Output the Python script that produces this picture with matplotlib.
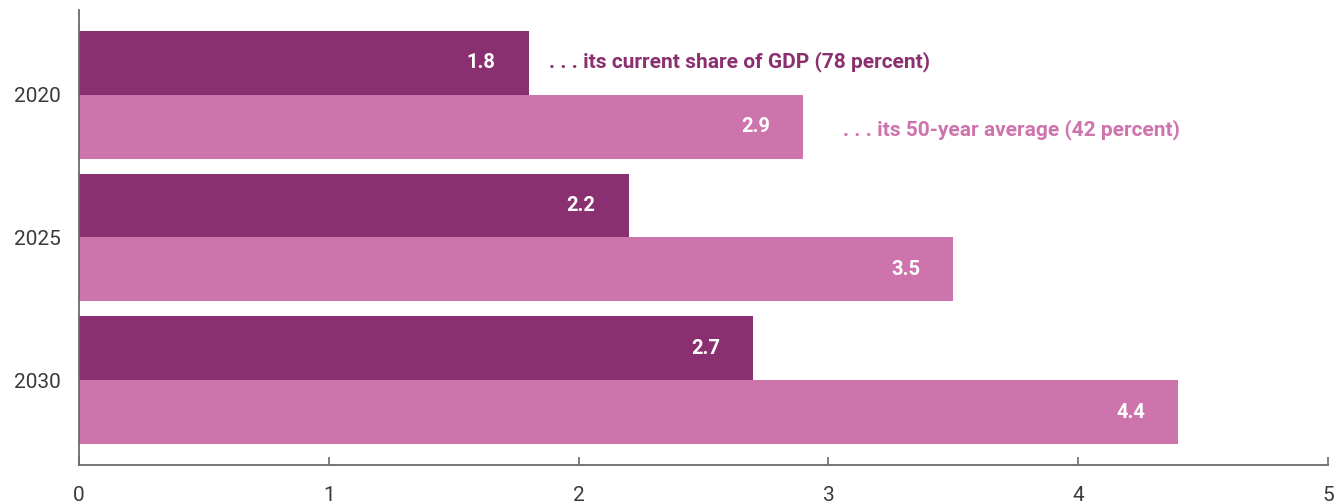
import numpy as np
import matplotlib
matplotlib.use("Agg")
import matplotlib.pyplot as plt

# data
years = ["2020", "2025", "2030"]
current_share = [1.8, 2.2, 2.7]
avg_share = [2.9, 3.5, 4.4]
series_notes = [". . . its current share of GDP (78 percent)",
                ". . . its 50-year average (42 percent)"]

darkColor = "#8a3070"
lightColor = "#ce74ad"

plt.rcParams['font.family'] = ['Roboto', 'DejaVu Sans']

fig = plt.figure(figsize=(13.41, 5.04), dpi=100)
ax = fig.add_axes([0.0589, 0.0774, 0.9314, 0.9028])

ind = np.arange(len(years))
barH = 0.448

darkBars = ax.barh(ind - barH/2, current_share, height=barH, color=darkColor)
lightBars = ax.barh(ind + barH/2, avg_share, height=barH, color=lightColor)

#white value labels near the end of every bar
for bars in (darkBars, lightBars):
    for rect in bars:
        w = rect.get_width()
        yc = rect.get_y() + rect.get_height()/2.0
        ax.text(w - 0.19, yc, "{:.1f}".format(w), color="white",
                fontsize=14.5, fontweight="bold", ha="center", va="center")

#series notes next to the first group
ax.text(current_share[0] + 0.08, ind[0] - barH/2 - 0.01, series_notes[0],
        color=darkColor, fontsize=15, fontweight="bold", va="center")
ax.text(avg_share[0] + 0.16, ind[0] + barH/2 + 0.02, series_notes[1],
        color=lightColor, fontsize=15, fontweight="bold", va="center")

ax.set_xlim(0, 5)
ax.set_ylim(len(years) - 1 + 0.594, -0.594)
ax.set_yticks(ind)
ax.set_yticklabels(years)
ax.set_xticks(np.arange(0, 6))

for side in ("top", "right"):
    ax.spines[side].set_visible(False)
for side in ("left", "bottom"):
    ax.spines[side].set_color("#6b6b6b")
    ax.spines[side].set_linewidth(1.3)

ax.tick_params(axis="x", direction="in", length=6, width=1.2, color="#6b6b6b",
               labelsize=15, labelcolor="#3a3a3a", pad=15)
ax.tick_params(axis="y", length=0, labelsize=15, labelcolor="#3a3a3a", pad=13)

plt.savefig("out.png", dpi=100)
